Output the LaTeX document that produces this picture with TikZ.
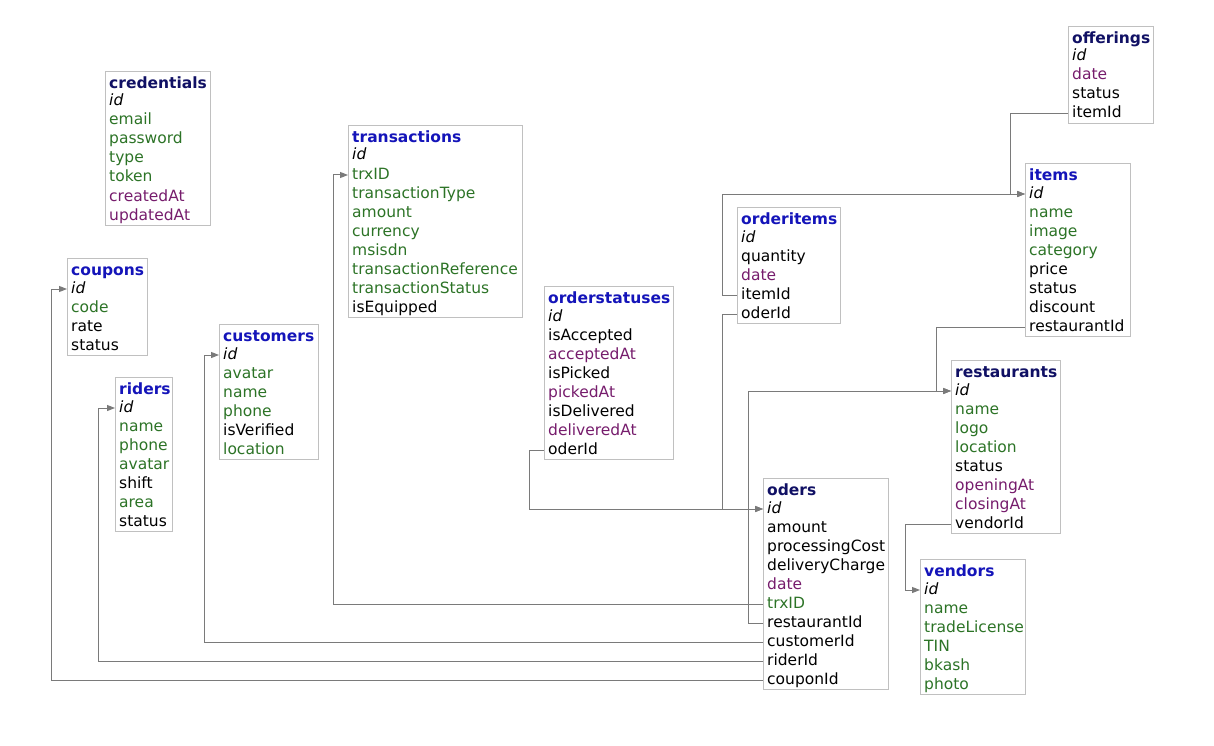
\documentclass[tikz,border=0pt]{standalone}
\usepackage{fontspec}
\setmainfont{DejaVu Sans}
\usetikzlibrary{arrows.meta}

\definecolor{fgreen}{RGB}{44,115,38}
\definecolor{fpurple}{RGB}{118,28,108}
\definecolor{tnavy}{RGB}{16,16,100}
\definecolor{tblue}{RGB}{20,20,185}
\definecolor{boxgray}{RGB}{192,192,192}
\definecolor{linkgray}{RGB}{122,122,122}

\newcommand{\tabfont}{\fontsize{15.5}{19}\selectfont}

\tikzset{
  tabbox/.style={draw=boxgray,line width=1pt,inner sep=0pt,anchor=north west},
  tabtitle/.style={anchor=west,inner xsep=4pt,inner ysep=0pt,
    text height=12pt,text depth=4pt,font=\tabfont\bfseries},
  tabrow/.style={anchor=west,inner xsep=4pt,inner ysep=0pt,
    text height=12pt,text depth=4pt,font=\tabfont},
  link/.style={draw=linkgray,line width=1pt,-{Triangle[length=8pt,width=6pt]}}
}

% one table: #1 name, #2 left, #3 top, #4 width, #5 title colour,
% #6 fields after the id, as name/colour
\newcommand{\dbtable}[6]{%
  \node[tabtitle,text=#5] (#1) at (#2,{#3+13.5}) {#1};
  % the key always comes first, in italics
  \node[tabrow,font=\tabfont\itshape] (#1-id) at (#2,{#3+31}) {id};
  \foreach \f/\c [count=\i] in {#6} {
    \node[tabrow,text=\c] (#1-\f) at (#2,{#3+12+19*(\i+1)}) {\f};
    \xdef\nrows{\i}
  }
  \pgfmathsetmacro\boxh{19*(\nrows+2)+2}
  \node[tabbox,minimum width=#4pt,minimum height=\boxh pt] (#1-box) at (#2,#3) {};
}

\begin{document}
\begin{tikzpicture}[x=1pt,y=-1pt]
  \useasboundingbox (0,0) rectangle (1214,746);

  % tables, left to right
  \dbtable{credentials}{105}{71}{105}{tnavy}{email/fgreen, password/fgreen,
    type/fgreen, token/fgreen, createdAt/fpurple, updatedAt/fpurple}
  \dbtable{coupons}{67}{258}{80}{tblue}{code/fgreen, rate/black, status/black}
  \dbtable{riders}{115}{377}{57}{tblue}{name/fgreen, phone/fgreen,
    avatar/fgreen, shift/black, area/fgreen, status/black}
  \dbtable{customers}{219}{324}{99}{tblue}{avatar/fgreen, name/fgreen,
    phone/fgreen, isVerified/black, location/fgreen}
  \dbtable{transactions}{348}{125}{174}{tblue}{trxID/fgreen,
    transactionType/fgreen, amount/fgreen, currency/fgreen, msisdn/fgreen,
    transactionReference/fgreen, transactionStatus/fgreen, isEquipped/black}
  \dbtable{orderstatuses}{544}{286}{129}{tblue}{isAccepted/black,
    acceptedAt/fpurple, isPicked/black, pickedAt/fpurple,
    isDelivered/black, deliveredAt/fpurple, oderId/black}
  \dbtable{orderitems}{737}{207}{103}{tblue}{quantity/black, date/fpurple,
    itemId/black, oderId/black}
  \dbtable{oders}{763}{478}{125}{tnavy}{amount/black, processingCost/black,
    deliveryCharge/black, date/fpurple, trxID/fgreen, restaurantId/black,
    customerId/black, riderId/black, couponId/black}
  \dbtable{vendors}{920}{559}{105}{tblue}{name/fgreen, tradeLicense/fgreen,
    TIN/fgreen, bkash/fgreen, photo/fgreen}
  \dbtable{restaurants}{951}{360}{109}{tnavy}{name/fgreen, logo/fgreen,
    location/fgreen, status/black, openingAt/fpurple, closingAt/fpurple,
    vendorId/black}
  \dbtable{items}{1025}{163}{105}{tblue}{name/fgreen, image/fgreen,
    category/fgreen, price/black, status/black, discount/black,
    restaurantId/black}
  \dbtable{offerings}{1068}{26}{85}{tnavy}{date/fpurple, status/black,
    itemId/black}

  % foreign keys of oders
  \draw[link] (oders-couponId.west) -| ([xshift=-16pt]coupons-id.west) -- (coupons-id.west);
  \draw[link] (oders-riderId.west) -| ([xshift=-17pt]riders-id.west) -- (riders-id.west);
  \draw[link] (oders-customerId.west) -| ([xshift=-15pt]customers-id.west) -- (customers-id.west);
  \draw[link] (oders-trxID.west) -| ([xshift=-15pt]transactions-trxID.west) -- (transactions-trxID.west);
  \draw[link] (oders-restaurantId.west) -- ++(-15,0) |- (restaurants-id.west);

  % the rest
  \draw[link] (orderstatuses-oderId.west) -- ++(-15,0) |- (oders-id.west);
  \draw[link] (orderitems-oderId.west) -- ++(-15,0) |- (oders-id.west);
  \draw[link] (orderitems-itemId.west) -- ++(-15,0) |- (items-id.west);
  \draw[link] (offerings-itemId.west) -- ++(-58,0) |- (items-id.west);
  \draw[link] (items-restaurantId.west) -- ++(-89,0) |- (restaurants-id.west);
  \draw[link] (restaurants-vendorId.west) -- ++(-46,0) |- (vendors-id.west);
\end{tikzpicture}
\end{document}
